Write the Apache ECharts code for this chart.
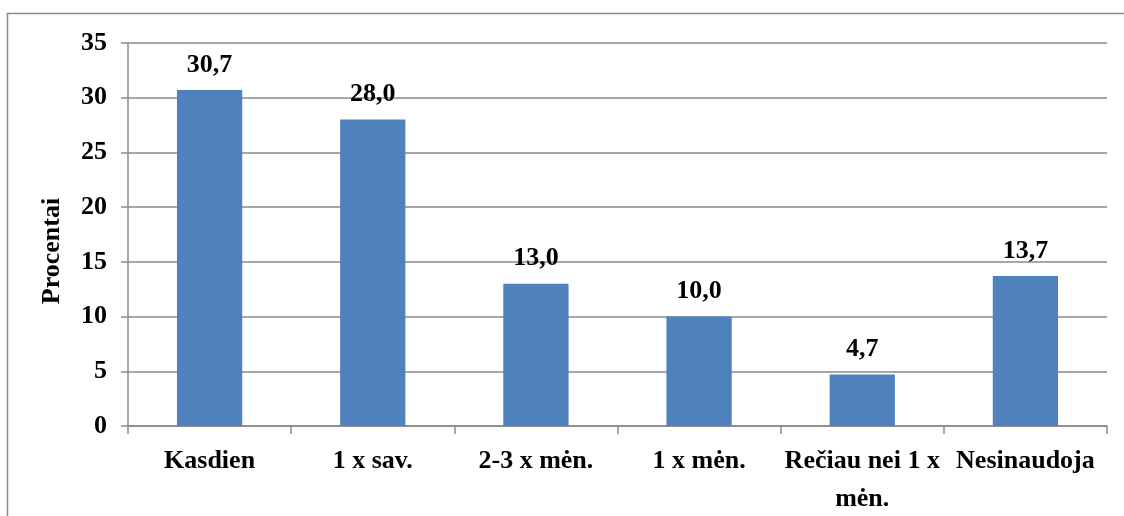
<!DOCTYPE html>
<html>
<head>
<meta charset="utf-8">
<script src="https://cdn.jsdelivr.net/npm/echarts@6/dist/echarts.min.js"></script>
<style>
  html, body { margin: 0; padding: 0; background: #fff; }
  #chart { width: 1124px; height: 516px; }
</style>
</head>
<body>
<div id="chart"></div>
<script>
// Usage frequency categories and their shares (percent)
const categories = ['Kasdien', '1 x sav.', '2-3 x mėn.', '1 x mėn.', 'Rečiau nei 1 x\nmėn.', 'Nesinaudoja'];
const values = [30.7, 28.0, 13.0, 10.0, 4.7, 13.7];
const yTicks = { min: 0, max: 35, interval: 5 };
const yTitle = 'Procentai';

const serif = '"Liberation Serif", "Times New Roman", serif';
const gridGray = '#8a8a8a';
const fontSize = 26;

const chart = echarts.init(document.getElementById('chart'), null, { renderer: 'canvas' });
chart.setOption({
  animation: false,
  backgroundColor: '#fff',
  graphic: [
    {
      type: 'rect',
      shape: { x: 7.5, y: 13.5, width: 1200, height: 600 },
      style: { fill: 'none', stroke: '#8c8c8c', lineWidth: 1.5 },
      silent: true
    },
    {
      // rotated axis title
      type: 'text',
      x: 52,
      y: 251,
      rotation: Math.PI / 2,
      style: {
        text: yTitle,
        fill: '#000',
        font: 'bold ' + fontSize + 'px ' + serif,
        align: 'center',
        verticalAlign: 'middle'
      },
      silent: true
    }
  ],
  grid: { left: 128, right: 17, top: 43, bottom: 90, containLabel: false, outerBoundsMode: 'none' },
  xAxis: {
    type: 'category',
    data: categories,
    axisLine: { show: true, lineStyle: { color: gridGray, width: 1.5 } },
    axisTick: { show: true, length: 8, interval: 0, lineStyle: { color: gridGray, width: 1.5 } },
    axisLabel: {
      interval: 0,
      margin: 16,
      color: '#000',
      fontFamily: serif,
      fontWeight: 'bold',
      fontSize: fontSize,
      lineHeight: 38
    }
  },
  yAxis: {
    type: 'value',
    min: yTicks.min,
    max: yTicks.max,
    interval: yTicks.interval,
    axisLine: { show: true, lineStyle: { color: gridGray, width: 1.5 } },
    axisTick: { show: true, length: 7, lineStyle: { color: gridGray, width: 1.5 } },
    splitLine: { show: true, lineStyle: { color: gridGray, width: 1.5 } },
    axisLabel: {
      margin: 21,
      color: '#000',
      fontFamily: serif,
      fontWeight: 'bold',
      fontSize: fontSize
    }
  },
  series: [{
    type: 'bar',
    data: values,
    barWidth: '40%',
    itemStyle: { color: '#4F81BD' },
    label: {
      show: true,
      position: 'top',
      distance: 12,
      color: '#000',
      fontFamily: serif,
      fontWeight: 'bold',
      fontSize: fontSize,
      formatter: p => p.value.toFixed(1).replace('.', ',')
    }
  }]
});
</script>
</body>
</html>
